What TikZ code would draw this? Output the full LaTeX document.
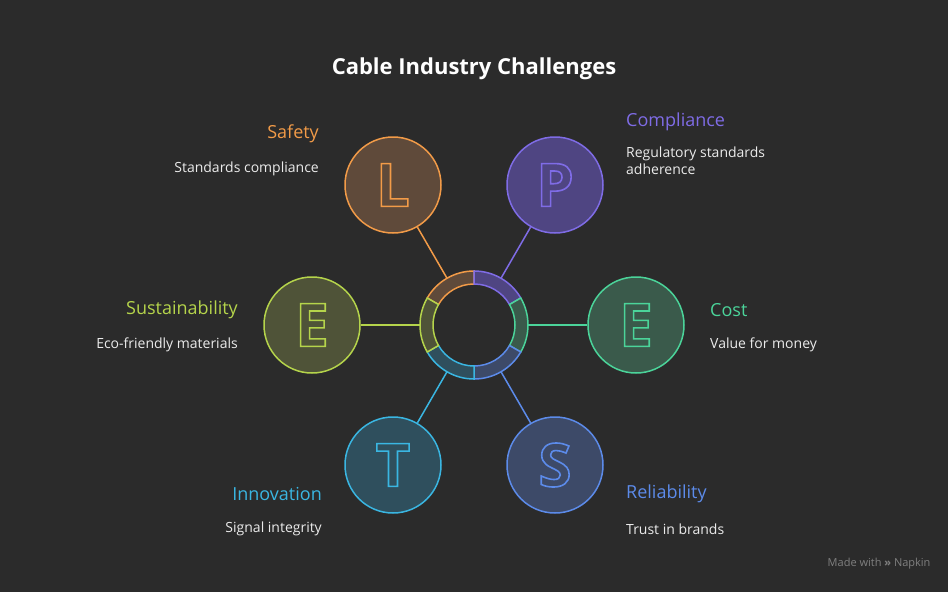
\documentclass[tikz,border=0pt]{standalone}
\usepackage{fontspec}
\setmainfont{Open Sans}
\usetikzlibrary{calc}
\begin{document}
\begin{tikzpicture}[x=1pt,y=-1pt,
  lbl/.style={font=\fontsize{18}{20}\selectfont,inner sep=0},
  dsc/.style={font=\fontsize{14}{17}\selectfont,text=white!92!black,inner sep=0,align=left},
  big/.style={circle,minimum size=96pt,line width=1.5pt,inner sep=0},
  lt/.style={font=\fontsize{60}{60}\selectfont\bfseries}]
\definecolor{bg}{HTML}{2B2B2B}
\definecolor{cO}{HTML}{F29B48}\definecolor{fO}{HTML}{5F4A3A}
\definecolor{cP}{HTML}{7F6CE6}\definecolor{fP}{HTML}{4F4582}
\definecolor{cG}{HTML}{4BD49A}\definecolor{fG}{HTML}{3A5A4B}
\definecolor{cB}{HTML}{5C8BEA}\definecolor{fB}{HTML}{3D4A68}
\definecolor{cC}{HTML}{3AB6E2}\definecolor{fC}{HTML}{2F4F5D}
\definecolor{cL}{HTML}{B5D44B}\definecolor{fL}{HTML}{4F5338}
\fill[bg] (0,0) rectangle (948,592);
\useasboundingbox (0,0) rectangle (948,592);
\node[font=\fontsize{22}{24}\selectfont\bfseries,text=white] (title) at (474,69) {Cable Industry Challenges};
\coordinate (c) at (474,325);
% ring segments
\foreach \a/\b/\cc/\ff in {90/150/cO/fO,30/90/cP/fP,-30/30/cG/fG,-90/-30/cB/fB,-150/-90/cC/fC,150/210/cL/fL}{
  \draw[\cc,fill=\ff,line width=1.5pt] ($(c)+(-\a:54)$) arc[start angle=-\a,end angle=-\b,radius=54] -- ($(c)+(-\b:41)$) arc[start angle=-\b,end angle=-\a,radius=41] -- cycle;
}
\foreach \n/\x/\y/\cc/\ff/\L/\ang in {l/393/185/cO/fO/L/120,p/555/185/cP/fP/P/60,e/636/325/cG/fG/E/0,s/555/465/cB/fB/S/-60,t/393/465/cC/fC/T/-120,w/312/325/cL/fL/E/180}{
  \node[big,draw=\cc,fill=\ff] (\n) at (\x,\y) {};
  \node[lt,text=\cc] at (\n) {\special{pdf:code q 1 Tr 1.6 w}\L\special{pdf:code Q}};
  \coordinate (r\n) at ($(c)+(-\ang:54)$);
  \draw[\cc,line width=1.5pt] (\n) -- (r\n);
}
\node[lbl,text=cO,anchor=east] (t1) at (319,134) {Safety};
\node[dsc,anchor=east] (d1) at (319,169) {Standards compliance};
\node[lbl,text=cP,anchor=west] (t2) at (626,122) {Compliance};
\node[dsc,anchor=north west] (d2) at (626,147) {Regulatory standards\\adherence};
\node[lbl,text=cL,anchor=east] (t3) at (238,310) {Sustainability};
\node[dsc,anchor=east] (d3) at (238,345) {Eco-friendly materials};
\node[lbl,text=cG,anchor=west] (t4) at (710,310) {Cost};
\node[dsc,anchor=west] (d4) at (710,345) {Value for money};
\node[lbl,text=cC,anchor=east] (t5) at (322,494) {Innovation};
\node[dsc,anchor=east] (d5) at (322,529) {Signal integrity};
\node[lbl,text=cB,anchor=west] (t6) at (626,494) {Reliability};
\node[dsc,anchor=west] (d6) at (626,529) {Trust in brands};
\node[font=\fontsize{11}{12}\selectfont,text=gray,anchor=east] (nap) at (934,564) {Made with \textbf{»} Napkin};
\end{tikzpicture}
\end{document}
